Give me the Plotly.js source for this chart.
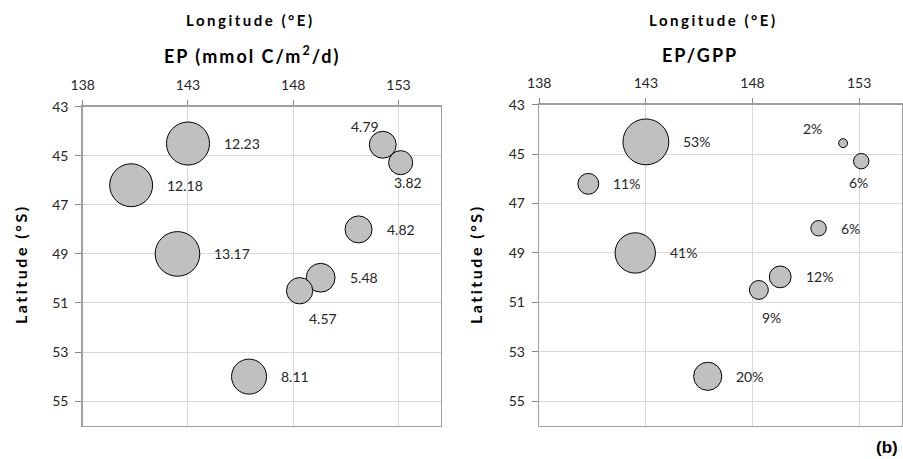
<!DOCTYPE html>
<html>
<head>
<meta charset="utf-8">
<script src="https://cdn.plot.ly/plotly-3.0.1.min.js"></script>
<style>
  html, body { margin: 0; padding: 0; background: #fff; }
  #chart { width: 903px; height: 459px; }
</style>
</head>
<body>
<div id="chart"></div>
<script>
// ---- data ----
const longitude = [143.0, 140.3, 142.5, 152.25, 153.1, 151.1, 149.3, 148.3, 145.9];
const latitude  = [44.5, 46.2, 49.0, 44.55, 45.28, 48.0, 49.97, 50.5, 54.0];
const epValues  = [12.23, 12.18, 13.17, 4.79, 3.82, 4.82, 5.48, 4.57, 8.11];
const epGppPct  = [53, 11, 41, 2, 6, 6, 12, 9, 20];
const xTicks = [138, 143, 148, 153];
const yTicks = [43, 45, 47, 49, 51, 53, 55];

// ---- style ----
const FONT = 'Lato, "Open Sans", "DejaVu Sans", sans-serif';
// plotly area mode: diameter = sqrt(2*v/sizeref)  -> want diameter = k*sqrt(v)
const SIZEREF_EP = 2 / (12.3 * 12.3);
const SIZEREF_RATIO = 2 / (6.3 * 6.3);
const GAP = 12.5;
// label placement overrides (screen px: dx right, dy down), index -> offset
const epLabelOffsets = { 3: [-18, -18], 4: [7, 20], 7: [23, 27.5] };
const ratioLabelOffsets = { 3: [-31, -15], 4: [-3, 21], 7: [13, 27.5] };

function bubbleTrace(values, sizeref, xa, ya) {
  return {
    type: 'scatter', mode: 'markers',
    x: longitude, y: latitude, xaxis: xa, yaxis: ya,
    marker: {
      size: values, sizemode: 'area', sizeref: sizeref,
      color: '#c0c0c0', line: { color: '#000', width: 1 }, opacity: 1
    },
    hoverinfo: 'x+y', showlegend: false
  };
}

function labelAnnotations(values, texts, sizeref, offsets, xref, yref) {
  return values.map((v, i) => {
    const r = Math.sqrt(v / (2 * sizeref));
    const base = {
      x: longitude[i], y: latitude[i], xref: xref, yref: yref,
      text: texts[i], showarrow: false,
      font: { family: FONT, size: 14, color: '#262626' }
    };
    if (offsets[i]) {
      return Object.assign(base, { xanchor: 'center', yanchor: 'middle',
        xshift: offsets[i][0], yshift: -offsets[i][1] });
    }
    return Object.assign(base, { xanchor: 'left', yanchor: 'middle', xshift: r + GAP });
  });
}

const epText = epValues.map(v => v.toFixed(2));
const ratioText = epGppPct.map(v => v + '%');

const data = [
  bubbleTrace(epValues, SIZEREF_EP, 'x', 'y'),
  bubbleTrace(epGppPct, SIZEREF_RATIO, 'x2', 'y2')
];

function xAxis(domain, anchor) {
  return {
    domain: domain, anchor: anchor, side: 'top', range: [138, 155],
    tickmode: 'array', tickvals: xTicks, ticktext: xTicks.map(String),
    ticks: 'outside', ticklen: 5, tickcolor: '#888', tickwidth: 1,
    ticklabelstandoff: 5,
    showgrid: true, gridcolor: '#d9d9d9', gridwidth: 1,
    showline: true, linecolor: '#a0a0a0', linewidth: 1.5, mirror: true,
    zeroline: false, tickfont: { family: FONT, size: 14, color: '#262626' }
  };
}
function yAxis(domain, anchor) {
  return {
    domain: domain, anchor: anchor, range: [56, 43],
    tickmode: 'array', tickvals: yTicks, ticktext: yTicks.map(String),
    ticks: 'outside', ticklen: 6, tickcolor: '#888', tickwidth: 1,
    ticklabelstandoff: 4,
    showgrid: true, gridcolor: '#d9d9d9', gridwidth: 1,
    showline: true, linecolor: '#a0a0a0', linewidth: 1.5, mirror: true,
    zeroline: false, tickfont: { family: FONT, size: 14, color: '#262626' }
  };
}

function sp(t, ls) { return '<span style="letter-spacing:' + ls + 'px">' + t + '</span>'; }

const titleAnns = [
  { text: sp('<b>Longitude (°E)</b>', 2.5), x: 0.2774, y: 0.9564 },
  { text: sp('<b>Longitude (°E)</b>', 2.5), x: 0.790, y: 0.9564 },
  { text: sp('<b>EP (mmol C/m<sup>2</sup>/d)</b>', 2), x: 0.2787, y: 0.8802, size: 18 },
  { text: sp('<b>EP/GPP</b>', 2), x: 0.7752, y: 0.8802, size: 18 },
  { text: sp('<b>Latitude (°S)</b>', 2.5), x: 0.0221, y: 0.4248, angle: -90, size: 16 },
  { text: sp('<b>Latitude (°S)</b>', 2.5), x: 0.526, y: 0.4248, angle: -90, size: 16 }
].map(a => ({
  text: a.text, x: a.x, y: a.y, xref: 'paper', yref: 'paper',
  xanchor: 'center', yanchor: 'middle', showarrow: false,
  textangle: a.angle || 0,
  font: { family: FONT, size: a.size || 15, color: '#000' }
}));
titleAnns.push({
  text: '<b>(b)</b>', x: 0.997, y: 0.024, xref: 'paper', yref: 'paper',
  xanchor: 'right', yanchor: 'middle', showarrow: false,
  font: { family: '"Liberation Sans", Arial, sans-serif', size: 17, color: '#000' }
});

const layout = {
  width: 903, height: 459,
  margin: { l: 0, r: 0, t: 0, b: 0, pad: 0 },
  paper_bgcolor: '#fff', plot_bgcolor: '#fff',
  showlegend: false,
  xaxis: xAxis([0.0916, 0.488], 'y'),
  yaxis: yAxis([0.0726, 0.7675], 'x'),
  xaxis2: xAxis([0.5972, 0.9986], 'y2'),
  yaxis2: yAxis([0.0726, 0.7715], 'x2'),
  annotations: titleAnns
    .concat(labelAnnotations(epValues, epText, SIZEREF_EP, epLabelOffsets, 'x', 'y'))
    .concat(labelAnnotations(epGppPct, ratioText, SIZEREF_RATIO, ratioLabelOffsets, 'x2', 'y2'))
};

Plotly.newPlot('chart', data, layout, { displayModeBar: false, staticPlot: true });
</script>
</body>
</html>
